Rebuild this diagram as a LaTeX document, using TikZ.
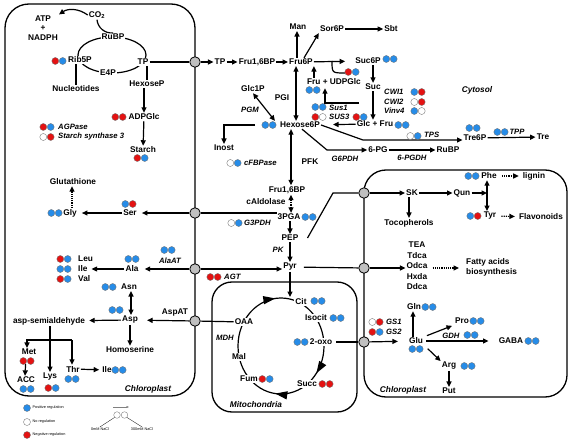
\documentclass[tikz,border=0pt]{standalone}
\usepackage{fontspec}
\setmainfont{Liberation Sans}
\usetikzlibrary{arrows.meta,decorations.markings}

\definecolor{posblue}{RGB}{38,140,232}
\definecolor{negred}{RGB}{228,18,18}
\definecolor{hubgray}{RGB}{192,192,192}
\newcommand{\metfont}{\fontsize{8.3}{9.5}\selectfont\bfseries}
\newcommand{\enzfont}{\fontsize{7.7}{9}\selectfont\bfseries\itshape}
\newcommand{\placefont}{\fontsize{8.3}{10}\selectfont\bfseries\itshape}
\newcommand{\legfont}{\fontsize{3.8}{4.5}\selectfont}
\newcommand{\regpair}[4]{%
  \filldraw[regdot,fill=#3] (#1-3.7,#2) circle (3.5pt);
  \filldraw[regdot,fill=#4] (#1+3.7,#2) circle (3.5pt);}

\begin{document}
\begin{tikzpicture}[x=1pt,y=-1pt,
    >={Triangle[length=5.5pt,width=5pt]},
    met/.style={font=\metfont,inner sep=1pt},
    enz/.style={font=\enzfont,inner sep=1pt},
    place/.style={font=\placefont,inner sep=1pt},
    legend/.style={font=\legfont,inner sep=0.5pt},
    onring/.style={met,fill=white},
    hub/.style={circle,draw,fill=hubgray,line width=0.8pt,minimum size=10.5pt,inner sep=0pt},
    compart/.style={draw,line width=1.3pt,rounded corners=#1},
    compart/.default=24pt,
    conn/.style={line width=1.2pt},
    regdot/.style={draw=black!55,line width=0.35pt},
    tca/.style={conn,postaction={decorate},decoration={markings,
      mark=at position 0.10 with {\arrow{Triangle[length=12pt,width=8pt]}},
      mark=at position 0.27 with {\arrow{Triangle[length=12pt,width=8pt]}},
      mark=at position 0.73 with {\arrow{Triangle[length=12pt,width=8pt]}}}}]
  \useasboundingbox (0,0) rectangle (573,441);

  % compartments
  \draw[compart] (5,4) rectangle (195,396);
  \draw[compart=20pt] (212,282) rectangle (357,412);
  \draw[compart=22pt] (364,170) rectangle (567,397);
  \node[place] (cytosol) at (477,90) {Cytosol};
  \node[place] (chloro1) at (148,389) {Chloroplast};
  \node[place] (chloro2) at (403,390) {Chloroplast};
  \node[place] (mito) at (256,405) {Mitochondria};

  % Calvin cycle and starch
  \draw[conn] (112,55) ellipse [x radius=34, y radius=18];
  \node[met] (co2) at (97,15) {CO\textsubscript{2}};
  \node[met,align=center] (atp) at (43,28) {ATP\\+\\NADPH};
  \node[onring] (rubp) at (113,37) {RuBP};
  \node[onring] (rib5p) at (80,60) {Rib5P};
  \node[onring] (tp) at (143,62) {TP};
  \node[onring] (e4p) at (108,73) {E4P};
  \node[met] (nucl) at (76,89) {Nucleotides};
  \node[met] (hexp) at (147,84) {HexoseP};
  \node[met] (adpglc) at (144,117) {ADPGlc};
  \node[met] (starch) at (143,150) {Starch};
  \node[enz,anchor=west] (agpase) at (57,127) {AGPase};
  \node[enz,anchor=west] (ss3) at (57,137) {Starch synthase 3};
  \node[hub] (hubtp) at (195,62) {};
  \draw[conn,->] (co2.west) to[bend right=35] (atp.north east);
  \draw[conn] (co2.south) to[bend right=45] (rubp.north);
  \draw[conn] (rib5p.south -| nucl) -- (nucl.north);
  \draw[conn] (tp.south -| hexp) -- (hexp.north);
  \draw[conn] (tp) -- (hubtp);
  \draw[conn,->] (hexp.south -| adpglc) -- (adpglc.north);
  \draw[conn,->] (adpglc) -- (starch);
  \regpair{59}{61}{negred}{posblue}
  \regpair{119}{117}{negred}{negred}
  \regpair{141}{158}{negred}{posblue}
  \regpair{47}{127}{negred}{posblue}
  \regpair{47}{137}{white}{negred}

  % cytosol
  \node[met] (tp2) at (220,62) {TP};
  \node[met] (fbp1) at (257,62) {Fru1,6BP};
  \node[met] (f6p) at (301,62) {Fru6P};
  \node[met] (man) at (298,27) {Man};
  \node[met] (sor6p) at (332,29) {Sor6P};
  \node[met] (sbt) at (391,29) {Sbt};
  \node[met] (suc6p) at (368,61) {Suc6P};
  \node[met] (suc) at (373,87) {Suc};
  \node[met] (fruudp) at (334,82) {Fru + UDPGlc};
  \node[met] (glcfru) at (375,124) {Glc + Fru};
  \node[met] (hex6p) at (300,125) {Hexose6P};
  \node[met] (glc1p) at (253,89) {Glc1P};
  \node[met] (inost) at (224,148) {Inost};
  \node[met] (fbp2) at (287,190) {Fru1,6BP};
  \node[met] (pga) at (289,217) {3PGA};
  \node[met] (pep) at (290,238) {PEP};
  \node[met] (pyr) at (290,267) {Pyr};
  \node[met] (pg6) at (378,150) {6-PG};
  \node[met] (rubp2) at (448,150) {RuBP};
  \node[met] (tre6p) at (475,138) {Tre6P};
  \node[met] (tre) at (543,137) {Tre};
  \node[met] (pgi) at (282,98) {PGI};
  \node[met] (pfk) at (310,162) {PFK};
  \node[met] (cald) at (266,202) {cAldolase};
  \node[enz] (pgm) at (250,110) {PGM};
  \node[enz] (g6pdh) at (345,159) {G6PDH};
  \node[enz] (pgdh) at (412,158) {6-PGDH};
  \node[enz,anchor=west] (tps) at (423,135) {TPS};
  \node[enz] (tpp) at (517,132) {TPP};
  \node[enz,anchor=west] (sus1) at (328,108) {Sus1};
  \node[enz,anchor=west] (sus3) at (328,117) {SUS3};
  \node[enz,anchor=west] (cwi1) at (383,92) {CWI1};
  \node[enz,anchor=west] (cwi2) at (383,102) {CWI2};
  \node[enz,anchor=west] (vinv4) at (383,111) {Vinv4};
  \node[enz,anchor=west] (cfbp) at (243,163) {cFBPase};
  \node[enz,anchor=west] (g3pdh) at (243,223) {G3PDH};
  \node[enz] (pk) at (278,250) {PK};
  \node[enz,anchor=west] (agt) at (223,277) {AGT};
  \coordinate (udpfork) at (332,61);
  \coordinate (udpend) at (345,73);
  \coordinate (susfork) at (359,103);
  \coordinate (inostfork) at (255,125);
  \coordinate (trebend) at (363,140);
  \coordinate (g6bend) at (327,150);
  \coordinate (pepbend) at (333,193);
  \draw[conn,->] (hubtp) -- (tp2);
  \draw[conn,->] (tp2) -- (fbp1);
  \draw[conn,->] (fbp1) -- (f6p);
  \draw[conn,->] ([xshift=-4pt]f6p.north) -- ([xshift=-4pt]f6p.north |- man.south);
  \draw[conn,->] ([xshift=3pt]f6p.north) -- (sor6p.south west);
  \draw[conn,->] (sor6p) -- (sbt);
  \draw[conn,->,shorten >=9pt] (f6p) -- (suc6p);
  \draw[conn] (udpfork) .. controls (332,73) .. (udpend);
  \draw[conn,->] (suc6p.south -| suc) -- (suc.north);
  \draw[conn,->] (suc) -- (suc |- glcfru.north);
  \draw[conn,->] (f6p.south east |- fruudp.north) -- (f6p.south east);
  \draw[conn,->] (susfork) -| ([xshift=-9pt,yshift=-2pt]fruudp.south);
  \draw[conn,->,shorten >=12pt] (glcfru) -- (hex6p);
  \draw[conn,<->] ([xshift=-5pt]f6p.south) -- ([xshift=-4pt]hex6p.north);
  \draw[conn,<->] (glc1p.south) -- ([xshift=-4pt]hex6p.north west);
  \draw[conn,->] (inostfork) -| (inost.north);
  \draw[conn,<->] ([xshift=-9pt]hex6p.south) -- ([xshift=4pt]fbp2.north);
  \draw[conn,densely dotted,<->] ([xshift=4pt]fbp2.south) -- ([xshift=2pt]pga.north);
  \draw[conn,->] ([xshift=1pt]pga.south) -- (pep.north);
  \draw[conn,->] (pep) -- (pyr);
  \draw[conn,->] (hex6p.east) -- (trebend) -- (trebend -| tre6p.west);
  \draw[conn,->] ([xshift=2pt]hex6p.south) -- (g6bend) -- (pg6.west);
  \draw[conn,->] (pg6) -- (rubp2);
  \draw[conn,->] (tre6p) -- (tre);
  \regpair{390}{59}{posblue}{posblue}
  \regpair{352}{72}{negred}{posblue}
  \regpair{313}{90}{posblue}{posblue}
  \regpair{319}{107}{posblue}{posblue}
  \regpair{319}{117}{negred}{white}
  \regpair{360}{117}{negred}{posblue}
  \regpair{402}{125}{posblue}{posblue}
  \regpair{418}{92}{posblue}{negred}
  \regpair{418}{102}{white}{negred}
  \regpair{418}{111}{posblue}{white}
  \regpair{269}{125}{posblue}{posblue}
  \regpair{234}{163}{white}{posblue}
  \regpair{309}{217}{posblue}{posblue}
  \regpair{235}{223}{white}{posblue}
  \regpair{414}{136}{white}{posblue}
  \regpair{473}{128}{posblue}{posblue}
  \regpair{501}{132}{posblue}{posblue}
  \regpair{214}{277}{negred}{negred}

  % amino acids in the chloroplast
  \node[hub] (hubser) at (195,213) {};
  \node[hub] (hubala) at (195,269) {};
  \node[hub] (hubasp) at (195,321) {};
  \node[met] (ser) at (130,213) {Ser};
  \node[met] (gly) at (70,213) {Gly};
  \node[met] (gsh) at (73,182) {Glutathione};
  \node[met] (ala) at (132,269) {Ala};
  \node[enz] (alaat) at (170,261) {AlaAT};
  \node[met,anchor=west] (leu) at (77,259) {Leu};
  \node[met,anchor=west] (ile) at (77,269) {Ile};
  \node[met,anchor=west] (val) at (77,279) {Val};
  \node[met] (asn) at (129,287) {Asn};
  \node[met] (asp) at (130,320) {Asp};
  \node[met] (aspat) at (175,313) {AspAT};
  \node[met] (aspsa) at (49,321) {asp-semialdehyde};
  \node[met] (hser) at (130,350) {Homoserine};
  \node[met] (met) at (29,352) {Met};
  \node[met] (acc) at (26,380) {ACC};
  \node[met] (lys) at (50,377) {Lys};
  \node[met] (thr) at (73,369) {Thr};
  \node[met] (ile2) at (107,370) {Ile};
  \coordinate (metfork) at (27,340);
  \coordinate (thrfork) at (72,340);
  \draw[conn] (hubser) -- (hubser -| pga.west);
  \draw[conn,->,shorten >=4pt] (hubser) -- (ser);
  \draw[conn,->,shorten >=4pt] (ser) -- (gly);
  \draw[conn,densely dotted,->] ([xshift=2pt]gly.north) -- ([xshift=-1pt]gsh.south);
  \draw[conn,->,shorten >=5pt] (hubala) -- (ala);
  \draw[conn,->,shorten >=3pt] (ala) -- (ile);
  \draw[conn,<->] ([xshift=2pt]asn.south) -- ([xshift=1pt]asp.north);
  \draw[conn,->,shorten >=8pt] (hubasp) -- (asp);
  \draw[conn,->,shorten >=3pt] (asp) -- (aspsa);
  \draw[conn,->] (asp) -- (hser);
  \draw[conn,->] (aspsa.south -| lys) -- (lys.north);
  \draw[conn,->] (thrfork) -- (metfork) -- (metfork |- met.north);
  \draw[conn,->] (thrfork) -- (thrfork |- thr.north);
  \draw[conn,->,shorten <=8pt] ([xshift=-3pt]met.south) -- ([xshift=-1pt]acc.north);
  \draw[conn,->,shorten >=2pt] (thr) -- (ile2);
  \regpair{55}{213}{posblue}{posblue}
  \regpair{129}{204}{posblue}{negred}
  \regpair{132}{259}{posblue}{posblue}
  \regpair{168}{250}{posblue}{posblue}
  \regpair{64}{259}{negred}{posblue}
  \regpair{64}{269}{posblue}{posblue}
  \regpair{64}{279}{negred}{posblue}
  \regpair{109}{287}{posblue}{posblue}
  \regpair{116}{310}{posblue}{posblue}
  \regpair{27}{361}{negred}{negred}
  \regpair{27}{389}{posblue}{posblue}
  \regpair{52}{388}{negred}{posblue}
  \regpair{72}{379}{posblue}{posblue}
  \regpair{119}{370}{posblue}{posblue}

  % pyruvate and TCA cycle
  \draw[conn,->] (hubala) -- (hubala -| pyr.west);
  \draw[tca] (281,346) ellipse [x radius=43, y radius=48];
  \node[onring] (cit) at (301,302) {Cit};
  \node[onring] (isocit) at (316,318) {Isocit};
  \node[onring] (oxo) at (321,342) {2-oxo};
  \node[onring] (succ) at (307,384) {Succ};
  \node[onring] (fum) at (249,379) {Fum};
  \node[onring] (mal) at (239,357) {Mal};
  \node[onring] (oaa) at (244,322) {OAA};
  \node[enz] (mdh) at (225,338) {MDH};
  \coordinate (citin) at (290,297);
  \draw[conn,->] (pyr) -- (citin);
  \draw[conn] (hubasp) -- (oaa);
  \regpair{318}{301}{posblue}{posblue}
  \regpair{337}{318}{posblue}{posblue}
  \regpair{301}{342}{posblue}{posblue}
  \regpair{326}{384}{negred}{negred}
  \regpair{266}{379}{negred}{posblue}

  % chloroplast (right)
  \node[hub] (hubsk) at (364,193) {};
  \node[hub] (hubpyr) at (364,268) {};
  \node[hub] (huboxo) at (364,342) {};
  \draw[conn] ([xshift=8pt]pep.east) -- (pepbend) -- (hubsk);
  \draw[conn,shorten <=6pt] (pyr) -- (hubpyr);
  \draw[conn,shorten <=3pt] (oxo) -- (huboxo);
  \node[met] (sk) at (412,193) {SK};
  \node[met] (qun) at (462,193) {Qun};
  \node[met] (phe) at (489,176) {Phe};
  \node[met] (tyr) at (490,216) {Tyr};
  \node[met] (lignin) at (534,176) {lignin};
  \node[met] (flav) at (541,217) {Flavonoids};
  \node[met] (toco) at (409,223) {Tocopherols};
  \node[met,align=center,font=\fontsize{8.3}{10.5}\selectfont\bfseries] (fa) at (417,266) {TEA\\Tdca\\Odca\\Hxda\\Ddca};
  \node[met,align=left,anchor=west,font=\fontsize{8.3}{10}\selectfont\bfseries] (fasyn) at (465,267) {Fatty acids\\biosynthesis};
  \coordinate (aro) at (487,193);
  \draw[conn,->] (hubsk) -- (sk);
  \draw[conn,->] (sk) -- (qun);
  \draw[conn,->] (qun) -- (aro);
  \draw[conn,<->] ([xshift=-2pt]phe.south) -- ([xshift=-3pt]tyr.north);
  \draw[conn,densely dotted,->,shorten <=4pt,shorten >=3pt] (phe) -- (lignin);
  \draw[conn,densely dotted,->,shorten <=4pt,shorten >=3pt] (tyr) -- (flav);
  \draw[conn,->] ([xshift=-3pt]sk.south) -- (toco.north);
  \draw[conn,->] (hubpyr) -- (hubpyr -| fa.west);
  \draw[conn,densely dotted,->,shorten <=4pt,shorten >=6pt] (fa.east |- hubpyr) -- (fasyn.west |- hubpyr);
  \node[met] (glu) at (416,341) {Glu};
  \node[met] (gln) at (414,307) {Gln};
  \node[met] (pro) at (462,321) {Pro};
  \node[met] (gaba) at (511,341) {GABA};
  \node[met] (arg) at (449,366) {Arg};
  \node[met] (put) at (449,391) {Put};
  \node[enz,anchor=west] (gs1) at (385,322) {GS1};
  \node[enz,anchor=west] (gs2) at (385,332) {GS2};
  \node[enz] (gdh) at (451,336) {GDH};
  \draw[conn,->,shorten >=10pt] (huboxo) -- (glu);
  \draw[conn,->] ([xshift=-3pt]glu.north) -- ([xshift=-1pt]gln.south);
  \draw[conn,->,shorten <=3pt,shorten >=2pt] (glu.north east) -- (pro.south west);
  \draw[conn,->,shorten <=2pt,shorten >=9pt] (glu) -- (gaba);
  \draw[conn,->,shorten <=5pt] (glu.south east) -- (arg.north west);
  \draw[conn,->] (arg) -- (put);
  \regpair{472}{176}{posblue}{posblue}
  \regpair{474}{216}{posblue}{negred}
  \regpair{429}{307}{posblue}{posblue}
  \regpair{416}{349}{posblue}{posblue}
  \regpair{376}{322}{white}{negred}
  \regpair{376}{332}{negred}{posblue}
  \regpair{477}{321}{posblue}{posblue}
  \regpair{471}{335}{posblue}{posblue}
  \regpair{532}{341}{posblue}{posblue}
  \regpair{468}{366}{posblue}{posblue}

  % legend
  \filldraw[regdot,fill=posblue] (27,408) circle (3.5pt);
  \filldraw[regdot,fill=white] (27,422) circle (3.5pt);
  \filldraw[regdot,fill=negred] (27,435) circle (3.5pt);
  \node[legend,anchor=west] (legpos) at (32,408) {Positive regulation};
  \node[legend,anchor=west] (legnone) at (32,422) {No regulation};
  \node[legend,anchor=west] (legneg) at (32,435) {Negative regulation};
  \node[circle,regdot,fill=white,minimum size=6.6pt,inner sep=0pt] (leglow) at (117,415) {};
  \node[circle,regdot,fill=white,minimum size=6.6pt,inner sep=0pt] (leghigh) at (124.5,415) {};
  \node[legend] (leg0) at (100,429) {0mM NaCl};
  \node[legend] (leg300) at (142,429) {300mM NaCl};
  \coordinate (legfrom) at (113,407);
  \coordinate (legto) at (129,407);
  \draw[gray,line width=0.4pt,-{Triangle[length=2.5pt,width=2pt]}] (legfrom) -- (legto);
  \draw[line width=0.3pt] (leglow.south west) -- (leg0.north);
  \draw[line width=0.3pt] (leghigh.south east) -- (leg300.north);
\end{tikzpicture}
\end{document}
